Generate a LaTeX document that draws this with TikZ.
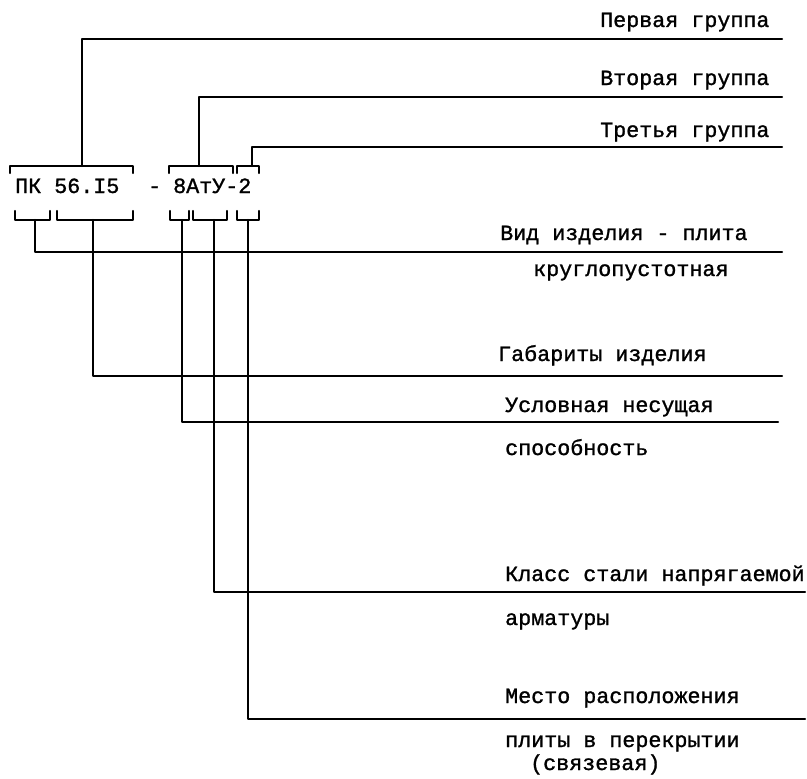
\documentclass[tikz,border=0pt]{standalone}
\usepackage{fontspec}
\newfontfamily\tw[FakeBold=1.2]{Liberation Mono}
\begin{document}
\begin{tikzpicture}[x=1pt,y=-1pt,
  lbl/.style={anchor=base west, inner sep=0pt, font=\tw\fontsize{21.7}{24}\selectfont},
  ln/.style={line width=2.4pt, line cap=round, line join=round},
  brk/.style={line width=2.4pt, line cap=round, line join=round}]
\useasboundingbox (0,0) rectangle (807,779);

% code
\node[lbl] (pk) at (15,193) {ПК 56.I5};
\node[lbl] (dash) at (148,193) {-};
\node[lbl] (code) at (173,193) {8АтУ-2};

% top brackets
\draw[brk] (10,173) -- (10,166) -- (133,166) -- (133,173);
\draw[brk] (169,173) -- (169,166) -- (233,166) -- (233,173);
\draw[brk] (237,173) -- (237,166) -- (259,166) -- (259,173);
% bottom brackets
\draw[brk] (15,211) -- (15,220) -- (50,220) -- (50,211);
\draw[brk] (57,211) -- (57,220) -- (133,220) -- (133,211);
\draw[brk] (170,211) -- (170,220) -- (189,220) -- (189,211);
\draw[brk] (193,211) -- (193,220) -- (227,220) -- (227,211);
\draw[brk] (237,211) -- (237,220) -- (259,220) -- (259,211);

% bracket tap points
\coordinate (t1) at (82,166);
\coordinate (t2) at (199,166);
\coordinate (t3) at (252,166);
\coordinate (b1) at (35,220);
\coordinate (b2) at (93,220);
\coordinate (b3) at (182,220);
\coordinate (b4) at (214,220);
\coordinate (b5) at (248,220);

% line ends
\coordinate (e1) at (782,39);
\coordinate (e2) at (782,97);
\coordinate (e3) at (782,147);
\coordinate (e4) at (782,252);
\coordinate (e5) at (782,376);
\coordinate (e6) at (778,422);
\coordinate (e7) at (805,592);
\coordinate (e8) at (805,719);

\draw[ln] (t1) |- (e1);
\draw[ln] (t2) |- (e2);
\draw[ln] (t3) |- (e3);
\draw[ln] (b1) |- (e4);
\draw[ln] (b2) |- (e5);
\draw[ln] (b3) |- (e6);
\draw[ln] (b4) |- (e7);
\draw[ln] (b5) |- (e8);

% labels
\node[lbl] (g1) at (600,27) {Первая группа};
\node[lbl] (g2) at (600,85) {Вторая группа};
\node[lbl] (g3) at (600,137) {Третья группа};
\node[lbl] (v1) at (500,240) {Вид изделия - плита};
\node[lbl] (v2) at (533,276) {круглопустотная};
\node[lbl] (gab) at (498,361) {Габариты изделия};
\node[lbl] (u1) at (505,412) {Условная несущая};
\node[lbl] (u2) at (505,455) {способность};
\node[lbl] (k1) at (505,581) {Класс стали напрягаемой};
\node[lbl] (k2) at (505,625) {арматуры};
\node[lbl] (m1) at (505,703) {Место расположения};
\node[lbl] (m2) at (505,747) {плиты в перекрытии};
\node[lbl] (m3) at (530,770) {(связевая)};
\end{tikzpicture}
\end{document}
